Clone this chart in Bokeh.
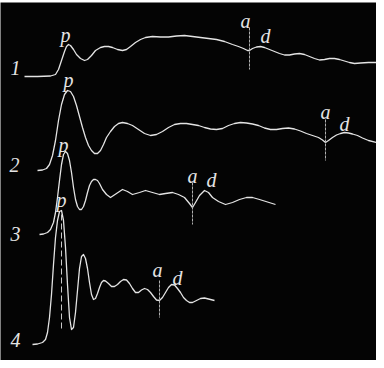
from bokeh.plotting import figure
from bokeh.models import Range1d
from bokeh.core.properties import value
from bokeh.embed import file_html
from bokeh.resources import INLINE

# Trace data (time in px-units, deflection in px-units, downwards positive)
t1_x = [32, 45, 58, 63, 66, 69, 72, 74, 76, 78, 81, 84, 88, 92, 95, 99, 103, 108, 112, 116, 120, 125, 130, 134, 138, 143, 148, 153, 160, 168, 176, 184, 192, 200, 208, 216, 224, 232, 240, 246, 251, 255, 257, 260, 264, 268, 272, 277, 282, 287, 292, 297, 302, 307, 312, 317, 322, 327, 332, 337, 342, 347, 352, 357, 362, 368, 376, 384]
t1_y = [84, 84, 83.5, 82, 77, 68, 59, 54, 52, 53, 57, 62, 66, 68, 67, 63, 58, 55, 54, 54, 55, 57, 58, 57, 54, 50, 47, 45, 44, 44.5, 44.5, 43.5, 43, 44, 45, 46, 47, 49, 52, 54, 56, 58, 58, 56, 54.5, 54, 55, 57, 59, 61, 62.5, 62.5, 61.5, 61, 62, 64, 66, 67.5, 67, 66, 66, 67, 68.5, 70, 71, 70.5, 70, 70]

t2_x = [45, 50, 54, 57, 60, 63, 66, 69, 72, 75, 78, 81, 84, 87, 90, 93, 96, 99, 102, 105, 108, 111, 114, 118, 122, 126, 130, 135, 140, 146, 152, 158, 164, 170, 176, 182, 188, 194, 200, 206, 212, 218, 224, 230, 236, 242, 248, 254, 260, 266, 272, 278, 284, 290, 296, 302, 308, 314, 320, 326, 330, 333, 336, 340, 344, 348, 352, 356, 360, 365, 370, 376, 384]
t2_y = [178, 177.5, 176, 172, 163, 148, 128, 112, 102, 98, 99, 104, 113, 124, 135, 145, 153, 158, 161, 161, 158, 152, 145, 139, 134, 131, 130, 131, 133, 137, 141, 143, 142, 139, 135, 132, 131, 131, 132, 133, 135, 136.5, 137, 136, 133, 131, 130, 130.5, 131.5, 133, 135.5, 137, 137, 136, 135.5, 136.5, 138.5, 141, 143, 145, 147.5, 150, 148, 145, 142.5, 141, 140, 140.5, 141.5, 143, 145.5, 148, 150]

t3_x = [47, 51, 55, 58, 61, 63, 65, 67, 69, 71, 73, 75, 77, 79, 81, 83, 85, 87, 89, 91, 93, 95, 97, 99, 101, 103, 105, 107, 110, 114, 118, 124, 130, 135, 140, 147, 153, 160, 167, 173, 180, 186, 192, 197, 200, 203, 207, 212, 216, 220, 226, 233, 240, 247, 254, 260, 267, 275, 283]
t3_y = [242, 241.5, 240, 237, 230, 220, 205, 188, 172, 162, 159, 161, 168, 180, 195, 207, 214, 217, 217, 214, 208, 200, 193, 189, 187, 187, 188, 191, 197, 202, 205, 201, 197, 199, 202, 200, 198, 200, 202, 201, 200, 202, 205, 211, 215, 210, 203, 198, 200, 205, 209, 212, 210, 207, 205, 205, 207, 209.5, 212]

t4_x = [40, 45, 50, 53, 55, 57, 59, 61, 63, 65, 67, 69, 71, 73, 75, 77, 79, 81, 83, 85, 87, 89, 91, 93, 95, 97, 99, 101, 103, 105, 107, 109, 111, 113, 116, 119, 122, 125, 128, 131, 134, 137, 140, 143, 146, 149, 152, 155, 158, 161, 164, 167, 170, 173, 176, 179, 182, 185, 188, 191, 194, 197, 200, 204, 208, 212, 216, 222]
t4_y = [352, 351.5, 350, 347, 340, 325, 302, 272, 245, 228, 219, 218, 228, 255, 292, 325, 337, 335, 320, 298, 276, 264, 262, 266, 276, 290, 302, 307, 306, 301, 295, 290, 288, 288.5, 291, 294, 294, 292, 289, 287, 287.5, 291, 296, 300, 300, 297.5, 296, 297, 300, 304, 307.5, 308, 305, 300, 295, 292, 292.5, 296, 300, 305, 308, 310, 310, 308, 306, 305.5, 306.5, 308]

# Markers a (vertical ticks)
mark_x = [257, 333, 200, 167]
mark_y0 = [35, 127, 190, 288]
mark_y1 = [77, 168, 232, 325]

# p-line on trace 4
pline_x = [69, 69]
pline_y = [222, 338]

# Text labels
num_text = ["1", "2", "3", "4"]
num_x = [23, 22, 23, 23]
num_y = [75, 172, 241, 347]

p_x = [73, 76, 71, 69]
p_y = [42, 87, 152, 207]

a_x = [253, 333, 200, 165]
a_y = [28, 119, 183, 277]
d_x = [273, 352, 219, 185]
d_y = [43, 131, 187, 285]

ink = "#e4e4e4"

p = figure(width=376, height=360, output_backend="svg", toolbar_location=None,
           x_range=Range1d(8, 384), y_range=Range1d(368, 10),
           x_axis_type=None, y_axis_type=None,
           min_border_left=0, min_border_right=0, min_border_top=2, min_border_bottom=0)
p.background_fill_color = "#040404"
p.border_fill_color = "white"
p.outline_line_color = None
p.grid.visible = False

for xs, ys in [(t1_x, t1_y), (t2_x, t2_y), (t3_x, t3_y), (t4_x, t4_y)]:
    p.line(xs, ys, line_color=ink, line_width=1.3, line_join="round")

p.segment(x0=mark_x, y0=mark_y0, x1=mark_x, y1=mark_y1, line_color="#b0b0b0",
          line_width=1, line_dash="3 1")
p.line(pline_x, pline_y, line_color="#c8c8c8", line_width=1, line_dash="6 3")

font = value("Liberation Serif")
for xs, ys, txt, size in [(num_x, num_y, num_text, "20px"),
                          (p_x, p_y, ["p"] * 4, "20px"),
                          (a_x, a_y, ["a"] * 4, "20px"),
                          (d_x, d_y, ["d"] * 4, "20px")]:
    p.text(x=xs, y=ys, text=txt, text_font=font, text_font_style="italic",
           text_font_size=size, text_color=ink, text_align="center",
           text_baseline="middle")

open("out.html", "w").write(file_html(p, INLINE))
